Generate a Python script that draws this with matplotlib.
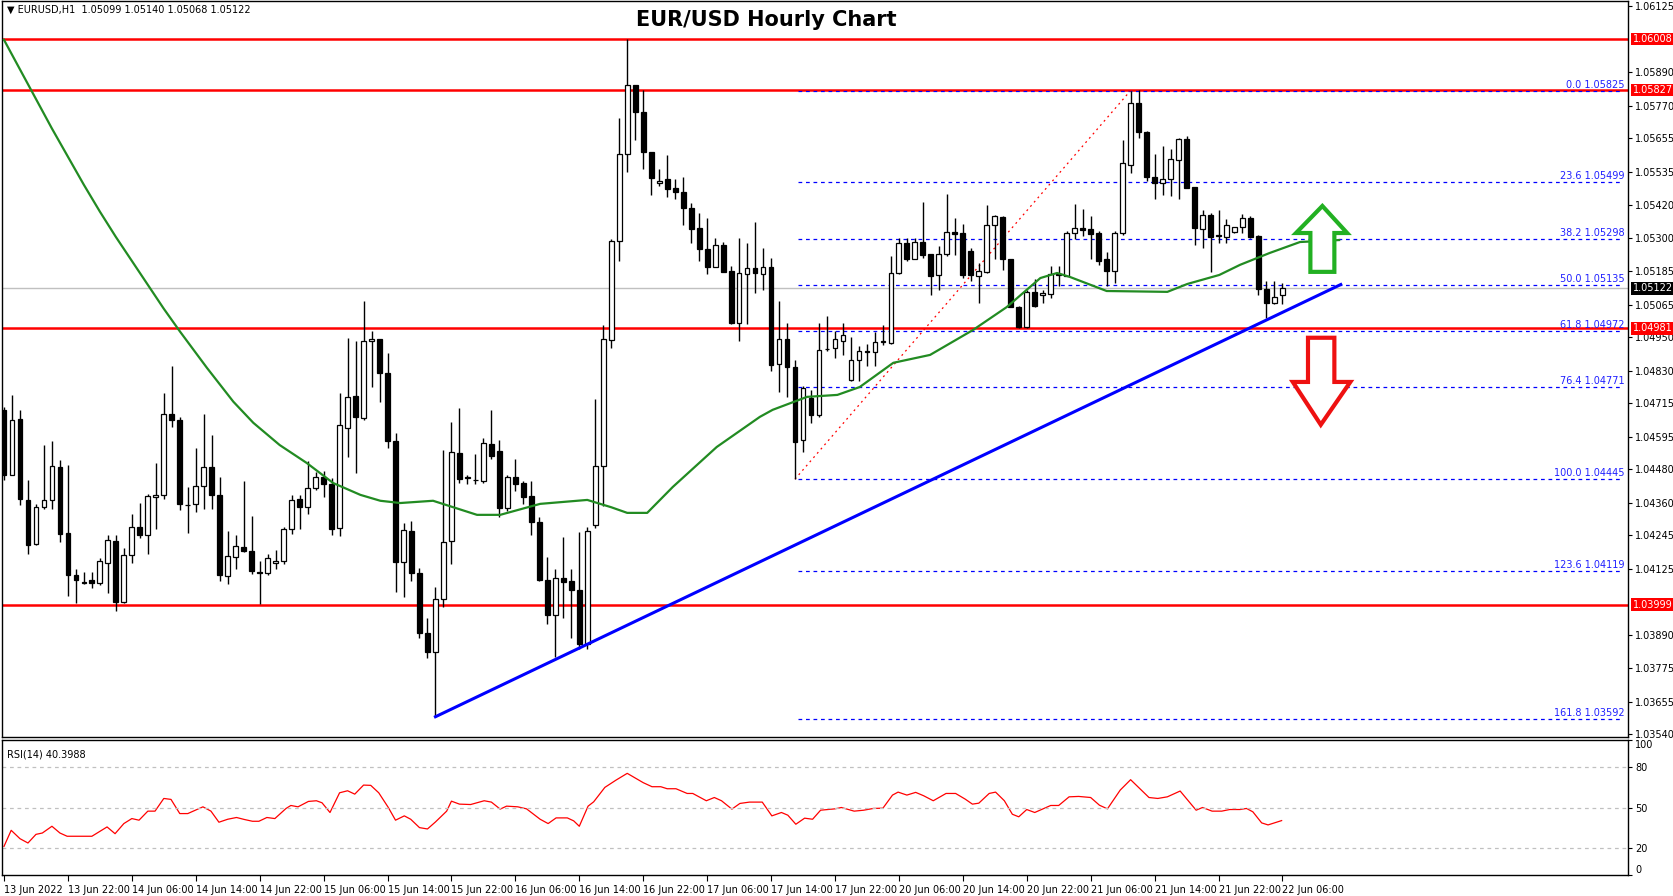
import matplotlib
matplotlib.use("Agg")
import matplotlib.pyplot as plt
from matplotlib.patches import Polygon
import matplotlib.transforms as mtrans

# ---------------- data ----------------
opens = [1.04689,1.04458,1.04660,1.04372,1.04213,1.04345,1.04371,1.04488,1.04252,1.04106,
         1.04078,1.04088,1.04077,1.04147,1.04225,1.04008,1.04174,1.04275,1.04245,1.04380,
         1.04387,1.04677,1.04656,1.04354,1.04357,1.04421,1.04488,1.04390,1.04101,1.04168,
         1.04204,1.04190,1.04114,1.04112,1.04147,1.04153,1.04269,1.04373,1.04345,1.04413,
         1.04452,1.04429,1.04271,1.04627,1.04739,1.04662,1.04935,1.04943,1.04822,1.04580,
         1.04149,1.04261,1.04111,1.03900,1.03830,1.04018,1.04226,1.04536,1.04451,1.04440,
         1.04438,1.04571,1.04543,1.04342,1.04454,1.04431,1.04386,1.04292,1.04088,1.03964,
         1.04093,1.04084,1.04052,1.03860,1.04281,1.04492,1.04939,1.05289,1.05599,1.05845,
         1.05748,1.05606,1.05496,1.05510,1.05478,1.05463,1.05407,1.05337,1.05262,1.05200,
         1.05275,1.05184,1.04999,1.05173,1.05196,1.05174,1.05199,1.04854,1.04943,1.04843,
         1.04584,1.04732,1.04671,1.04907,1.04910,1.04934,1.04798,1.04869,1.04899,1.04896,
         1.04933,1.04928,1.05178,1.05282,1.05227,1.05288,1.05243,1.05170,1.05243,1.05324,
         1.05320,1.05256,1.05168,1.05180,1.05348,1.05376,1.05227,1.05056,1.04986,1.05111,
         1.05100,1.05103,1.05172,1.05168,1.05320,1.05338,1.05332,1.05318,1.05225,1.05183,
         1.05318,1.05561,1.05781,1.05678,1.05518,1.05498,1.05512,1.05578,1.05652,1.05484,
         1.05335,1.05383,1.05312,1.05306,1.05321,1.05341,1.05371,1.05308,1.05120,1.05069,
         1.05099]
closes = [1.04458,1.04654,1.04373,1.04210,1.04346,1.04372,1.04492,1.04249,1.04103,1.04086,
          1.04077,1.04076,1.04154,1.04229,1.04008,1.04175,1.04275,1.04245,1.04385,1.04389,
          1.04677,1.04654,1.04355,1.04352,1.04421,1.04488,1.04387,1.04103,1.04173,1.04207,
          1.04189,1.04117,1.04113,1.04166,1.04153,1.04269,1.04371,1.04347,1.04413,1.04452,
          1.04426,1.04267,1.04638,1.04737,1.04666,1.04937,1.04943,1.04822,1.04580,1.04149,
          1.04265,1.04111,1.03900,1.03830,1.04018,1.04220,1.04540,1.04444,1.04450,1.04441,
          1.04574,1.04526,1.04342,1.04454,1.04427,1.04380,1.04292,1.04088,1.03961,1.04093,
          1.04081,1.04050,1.03860,1.04261,1.04492,1.04944,1.05289,1.05598,1.05845,1.05748,
          1.05606,1.05516,1.05505,1.05477,1.05463,1.05407,1.05334,1.05262,1.05200,1.05275,
          1.05179,1.04999,1.05176,1.05196,1.05176,1.05199,1.04851,1.04943,1.04843,1.04578,
          1.04768,1.04671,1.04905,1.04906,1.04943,1.04956,1.04867,1.04899,1.04898,1.04931,
          1.04934,1.05178,1.05282,1.05227,1.05288,1.05240,1.05166,1.05243,1.05324,1.05316,
          1.05169,1.05169,1.05183,1.05346,1.05379,1.05225,1.05056,1.04986,1.05111,1.05059,
          1.05106,1.05175,1.05170,1.05320,1.05338,1.05329,1.05314,1.05219,1.05183,1.05320,
          1.05566,1.05781,1.05676,1.05519,1.05498,1.05512,1.05583,1.05652,1.05480,1.05338,
          1.05383,1.05306,1.05310,1.05346,1.05339,1.05371,1.05306,1.05119,1.05069,1.05093,
          1.05122]
highs = [1.04700,1.04743,1.04689,1.04443,1.04355,1.04565,1.04582,1.04514,1.04494,1.04125,
         1.04115,1.04115,1.04165,1.04245,1.04248,1.04200,1.04322,1.04361,1.04393,1.04503,
         1.04752,1.04847,1.04667,1.04418,1.04557,1.04677,1.04601,1.04452,1.04260,1.04248,
         1.04437,1.04314,1.04154,1.04178,1.04193,1.04275,1.04390,1.04390,1.04508,1.04470,
         1.04473,1.04449,1.04752,1.04946,1.04934,1.05079,1.04972,1.04943,1.04894,1.04610,
         1.04290,1.04295,1.04130,1.03950,1.04060,1.04547,1.04646,1.04696,1.04458,1.04533,
         1.04590,1.04692,1.04585,1.04458,1.04515,1.04438,1.04438,1.04311,1.04168,1.04124,
         1.04240,1.04124,1.04257,1.04275,1.04730,1.04993,1.05296,1.05727,1.06008,1.05845,
         1.05827,1.05606,1.05545,1.05595,1.05510,1.05518,1.05425,1.05390,1.05373,1.05300,
         1.05286,1.05203,1.05302,1.05282,1.05357,1.05264,1.05231,1.05079,1.04998,1.04869,
         1.04774,1.04762,1.04998,1.05026,1.04970,1.04998,1.04948,1.04916,1.04925,1.04966,
         1.04994,1.05237,1.05303,1.05303,1.05303,1.05428,1.05245,1.05273,1.05456,1.05373,
         1.05352,1.05267,1.05213,1.05417,1.05382,1.05379,1.05227,1.05059,1.05116,1.05154,
         1.05116,1.05201,1.05201,1.05326,1.05421,1.05403,1.05380,1.05326,1.05252,1.05326,
         1.05649,1.05824,1.05827,1.05682,1.05599,1.05629,1.05617,1.05658,1.05664,1.05484,
         1.05400,1.05389,1.05400,1.05367,1.05341,1.05385,1.05379,1.05312,1.05148,1.05148,
         1.05140]
lows = [1.04440,1.04458,1.04354,1.04180,1.04210,1.04338,1.04340,1.04222,1.04029,1.04005,
        1.04074,1.04058,1.04068,1.04040,1.03977,1.04005,1.04148,1.04234,1.04178,1.04267,
        1.04376,1.04629,1.04334,1.04252,1.04329,1.04340,1.04340,1.04082,1.04072,1.04127,
        1.04186,1.04109,1.04002,1.04103,1.04127,1.04142,1.04249,1.04267,1.04320,1.04405,
        1.04383,1.04245,1.04243,1.04522,1.04467,1.04655,1.04772,1.04719,1.04556,1.04044,
        1.04028,1.04084,1.03880,1.03810,1.03601,1.03990,1.04145,1.04430,1.04427,1.04427,
        1.04430,1.04517,1.04311,1.04331,1.04404,1.04356,1.04247,1.04084,1.03930,1.03814,
        1.03950,1.03880,1.03840,1.03840,1.04270,1.04349,1.04912,1.05221,1.05534,1.05650,
        1.05545,1.05455,1.05486,1.05448,1.05439,1.05347,1.05282,1.05218,1.05173,1.05198,
        1.05179,1.04996,1.04937,1.04996,1.05105,1.05116,1.04830,1.04753,1.04738,1.04445,
        1.04542,1.04643,1.04665,1.04899,1.04875,1.04887,1.04792,1.04792,1.04845,1.04845,
        1.04922,1.04926,1.05175,1.05221,1.05225,1.05231,1.05098,1.05116,1.05239,1.05240,
        1.05160,1.05148,1.05071,1.05178,1.05225,1.05186,1.05055,1.04982,1.04982,1.05055,
        1.05071,1.05089,1.05132,1.05166,1.05296,1.05308,1.05225,1.05204,1.05132,1.05140,
        1.05312,1.05531,1.05656,1.05504,1.05441,1.05453,1.05451,1.05441,1.05478,1.05276,
        1.05264,1.05181,1.05284,1.05282,1.05320,1.05320,1.05303,1.05099,1.05016,1.05067,
        1.05068]

ma_x = [0,2,4,6,8,10,12,14,16,18,20,22,25.4,28.7,31.2,34.5,37.9,41.2,44.6,47.1,49.6,53.7,59.2,62.1,
        67.1,73.0,76.0,78.0,80.5,83.7,89.2,94.6,96.2,100.5,104.3,107.1,111.3,115.9,121.3,125.5,
        129.7,131.8,133.4,138.0,145.6,148.1,152.1,154.7,158.4,162.2,167.1]
ma_y = [1.06005,1.05900,1.05795,1.05690,1.05590,1.05490,1.05395,1.05305,1.05220,1.05135,
        1.05050,1.04970,1.04840,1.04720,1.04645,1.04566,
        1.04502,1.04431,1.04389,1.04368,1.04360,1.04368,1.04318,1.04318,1.04357,1.04371,
        1.04345,1.04325,1.04325,1.04417,1.04559,1.04666,1.04691,1.04737,1.04744,1.04772,1.04858,
        1.04886,1.04975,1.05056,1.05159,1.05177,1.05163,1.05113,1.05110,1.05138,1.05170,
        1.05206,1.05248,1.05287,1.05294]

rsi_x = [0,0.9,2.0,3.0,4.0,4.8,6.0,7.0,7.9,11.0,12.9,13.9,15.0,16.0,16.9,18.0,18.9,20.0,20.9,
         22.0,23.0,24.9,25.9,26.9,28.0,29.1,30.1,31.1,31.9,32.9,33.9,35.3,35.9,36.8,38.1,39.1,
         39.8,40.8,42.0,43.0,43.9,45.0,45.9,46.9,48.1,49.0,50.1,50.9,52.0,53.0,54.0,55.4,56.0,
         57.0,58.4,59.2,60.1,61.0,62.1,62.9,64.3,65.4,67.1,68.1,69.1,70.5,71.3,72.0,73.1,73.8,
         75.2,76.6,78.0,80.0,81.1,82.2,83.0,84.1,85.5,86.2,87.9,88.9,89.8,91.1,92.1,93.3,94.9,
         96.1,97.3,98.1,99.1,100.2,101.2,102.2,104.0,104.8,106.4,107.6,108.8,110.0,111.2,111.9,
         113.0,114.1,115.1,116.3,117.9,119.1,120.3,121.2,122.0,123.3,124.1,125.2,126.2,127.0,
         128.0,129.0,131.0,132.0,133.3,134.5,136.0,137.1,138.1,139.7,141.0,143.3,144.4,145.6,
         147.2,149.2,150.0,151.2,152.4,153.4,154.7,155.5,156.3,157.4,158.2,159.1,159.9]
rsi_v = [21.2,33.1,26.9,23.7,30.1,31.1,36.1,31.1,28.7,28.7,35.6,30.6,38.1,41.8,40.6,47.3,47.3,
         56.7,56.0,45.5,45.5,50.5,47.3,39.1,41.3,42.6,41.1,39.8,39.8,42.6,41.8,49.3,51.5,50.5,
         54.5,55.0,53.5,46.3,60.9,62.4,59.9,66.6,66.4,60.9,50.0,40.6,43.8,41.3,35.1,34.1,39.3,
         47.3,54.7,52.5,52.2,53.5,55.0,54.0,48.8,51.0,50.5,49.0,41.3,38.1,42.3,42.3,40.1,36.1,
         51.0,54.2,64.9,70.3,75.3,68.4,65.4,65.4,63.9,63.9,60.4,60.4,55.0,57.4,55.0,48.8,53.0,
         54.0,54.0,43.8,46.3,44.3,37.6,42.1,41.3,48.0,49.0,50.0,47.3,48.0,49.3,49.5,59.2,61.4,
         59.2,61.2,58.7,55.0,60.4,60.4,56.2,52.5,53.2,60.4,61.4,55.0,45.0,43.1,48.5,46.3,51.5,
         51.5,57.9,58.2,57.4,51.7,49.0,62.9,70.6,57.4,56.7,57.9,62.2,48.0,50.0,47.3,47.3,48.5,
         48.5,49.3,46.8,38.6,37.1,38.8,40.3]

x_labels = ["13 Jun 2022","13 Jun 22:00","14 Jun 06:00","14 Jun 14:00","14 Jun 22:00",
            "15 Jun 06:00","15 Jun 14:00","15 Jun 22:00","16 Jun 06:00","16 Jun 14:00",
            "16 Jun 22:00","17 Jun 06:00","17 Jun 14:00","17 Jun 22:00","20 Jun 06:00",
            "20 Jun 14:00","20 Jun 22:00","21 Jun 06:00","21 Jun 14:00","21 Jun 22:00",
            "22 Jun 06:00"]
price_ticks = [1.06125,1.05890,1.05770,1.05655,1.05535,1.05420,1.05300,1.05185,1.05065,1.04950,
               1.04830,1.04715,1.04595,1.04480,1.04360,1.04245,1.04125,1.03890,1.03775,1.03655,
               1.03540]
sr_levels = [1.06008, 1.05827, 1.04981, 1.03999]
last_price = 1.05122
fib_pcts = [0.0, 23.6, 38.2, 50.0, 61.8, 76.4, 100.0, 123.6, 161.8]
fib_prices = [1.05825, 1.05499, 1.05298, 1.05135, 1.04972, 1.04771, 1.04445, 1.04119, 1.03592]
fib_low_x, fib_high_x = 99, 141
trend_x = [54, 167.3]
trend_y = [1.03601, 1.05136]
rsi_levels = [20, 50, 80]
rsi_ticks = [0, 20, 50, 80, 100]

# ---------------- figure ----------------
W, H = 1673, 896
fig = plt.figure(figsize=(W/100, H/100), dpi=100)
fig.patch.set_facecolor("white")
ax = fig.add_axes([2/W, 1-737/H, 1626/W, 736/H])
ax2 = fig.add_axes([2/W, 1-875/H, 1626/W, 135/H])
XL = (-0.25, 203.25)
YL = (1.03529, 1.06143)
ax.set_xlim(*XL); ax.set_ylim(*YL)
ax2.set_xlim(*XL); ax2.set_ylim(0, 100)

n = len(closes)
xs = list(range(n))
ax.vlines(xs, lows, highs, color="black", lw=1, zorder=3)
bodies = [c - o for o, c in zip(opens, closes)]
cols = ["white" if c >= o else "black" for o, c in zip(opens, closes)]
ax.bar(xs, bodies, bottom=opens, width=0.6, color=cols, edgecolor="black", lw=0.9, zorder=4)

ax.plot(ma_x, ma_y, color="#228b22", lw=1.6, zorder=5)

for lv in sr_levels:
    ax.axhline(lv, color="#ff0000", lw=1.8, zorder=2)
ax.axhline(last_price, color="#c0c0c0", lw=1, zorder=1)

for pct, pr in zip(fib_pcts, fib_prices):
    ax.plot([fib_low_x + 0.4, XL[1] - 0.6], [pr, pr], color="#0000ff", lw=0.9,
            ls=(0, (3, 3)), zorder=2)
    ax.text(XL[1] - 0.4, pr + 0.00003, f"{pct:.1f} {pr:.5f}", color="#2020ff",
            fontsize=7, ha="right", va="bottom", zorder=6)
ax.plot([fib_low_x, fib_high_x], [fib_prices[6], fib_prices[0]], color="#ff0000", lw=0.9,
        ls=(0, (1.5, 3)), zorder=2)

ax.plot(trend_x, trend_y, color="#0000ff", lw=2.2, zorder=6)

# arrows
up = [(165.0, 1.05415), (168.1, 1.05319), (166.5, 1.05319), (166.5, 1.05181),
      (163.5, 1.05181), (163.5, 1.05319), (161.7, 1.05319)]
dn = [(163.2, 1.04947), (166.5, 1.04947), (166.5, 1.04790), (168.5, 1.04790),
      (164.8, 1.04638), (161.3, 1.04790), (163.2, 1.04790)]
ax.add_patch(Polygon(up, closed=True, facecolor="white", edgecolor="#22b022", lw=3, zorder=7))
ax.add_patch(Polygon(dn, closed=True, facecolor="white", edgecolor="#ee1111", lw=3, zorder=7))

# axes styling
for a in (ax, ax2):
    for s in a.spines.values():
        s.set_color("black"); s.set_linewidth(1)
ax.set_xticks([])
ax.yaxis.tick_right()
ax.set_yticks(price_ticks)
ax.set_yticklabels([f"{p:.5f}" for p in price_ticks])
ax.tick_params(axis="y", length=3, labelsize=7, pad=2)

tr = mtrans.blended_transform_factory(ax.transAxes, ax.transData)
for lv in sr_levels:
    ax.text(1.003, lv, f"{lv:.5f}", transform=tr, fontsize=7, color="white", va="center",
            ha="left", bbox=dict(boxstyle="square,pad=0.15", fc="#ff0000", ec="none"), zorder=8)
ax.text(1.003, last_price, f"{last_price:.5f}", transform=tr, fontsize=7, color="white",
        va="center", ha="left", bbox=dict(boxstyle="square,pad=0.15", fc="black", ec="none"), zorder=8)

ax.text(0.47, 0.988, "EUR/USD Hourly Chart", transform=ax.transAxes, fontsize=15,
        fontweight="bold", ha="center", va="top")
ax.text(0.003, 0.995, "\u25bc EURUSD,H1  1.05099 1.05140 1.05068 1.05122", transform=ax.transAxes,
        fontsize=7, ha="left", va="top")

# RSI
ax2.plot(rsi_x, rsi_v, color="#ff0000", lw=0.9)
for lv in rsi_levels:
    ax2.axhline(lv, color="#c0c0c0", lw=0.9, ls=(0, (3, 3)))
ax2.yaxis.tick_right()
ax2.set_yticks(rsi_ticks)
ax2.tick_params(axis="y", length=3, labelsize=7, pad=2)
ylabs = ax2.get_yticklabels()
ylabs[-1].set_va("top")
ylabs[0].set_va("bottom")
ax2.text(0.003, 0.93, "RSI(14) 40.3988", transform=ax2.transAxes, fontsize=7, ha="left", va="top")
ax2.set_xticks(list(range(0, 8 * len(x_labels), 8)))
ax2.set_xticklabels(x_labels, ha="left", fontsize=7)
ax2.tick_params(axis="x", length=4, pad=3)

fig.savefig("out.png", dpi=100, facecolor="white")
